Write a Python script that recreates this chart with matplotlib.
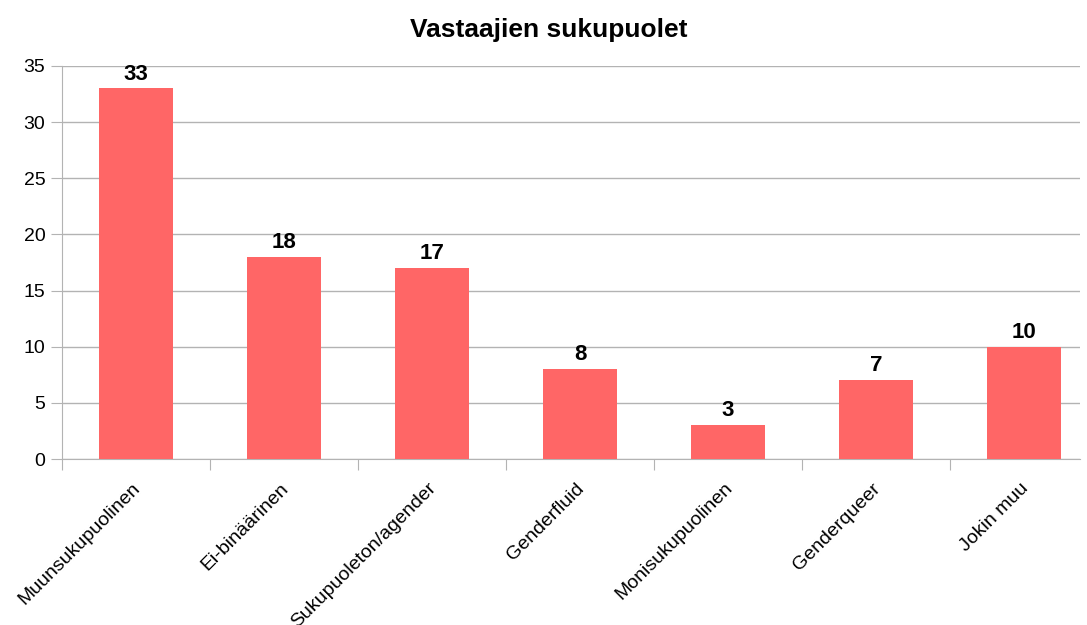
import numpy as np
import matplotlib.pyplot as plt

# data
categories = ["Muunsukupuolinen", "Ei-binäärinen", "Sukupuoleton/agender",
              "Genderfluid", "Monisukupuolinen", "Genderqueer", "Jokin muu"]
counts = [33, 18, 17, 8, 3, 7, 10]
title = "Vastaajien sukupuolet"

plt.rcParams['font.family'] = ['Liberation Sans', 'DejaVu Sans']

fig = plt.figure(figsize=(10.87, 6.25), dpi=100)
# plot area runs past the right edge in the original, cut at ~1080px
ax = fig.add_axes([62 / 1087, 1 - 459 / 625, 1018 / 1087, 393 / 625])

x = np.arange(len(categories))
bars = ax.bar(x, counts, width=0.5, color="#ff6666", zorder=3)

ax.set_yticks(range(0, 36, 5))
ax.yaxis.grid(True, color="#b3b3b3", linewidth=1, zorder=0)

for s in ["top", "right"]:
    ax.spines[s].set_visible(False)
for s in ["left", "bottom"]:
    ax.spines[s].set_color("#b3b3b3")

# ticks at category boundaries, labels at centres
ax.set_xticks(np.arange(-0.5, len(categories) - 0.5, 1.0))
ax.set_xticklabels([])
ax.set_xticks(x - 0.03, minor=True)
ax.set_xticklabels(categories, minor=True, rotation=45, ha="right",
                   rotation_mode="anchor", fontsize=14)
ax.tick_params(axis="x", which="major", length=8, color="#b3b3b3")
ax.tick_params(axis="x", which="minor", length=0, pad=15)
ax.tick_params(axis="y", length=8, color="#b3b3b3", labelsize=14, pad=4)

ax.set_xlim(-0.5, -0.5 + 1018 / 148.0)
ax.set_ylim(0, 35)

for b, v in zip(bars, counts):
    ax.text(b.get_x() + b.get_width() / 2, v + 0.35, str(v), ha="center",
            va="bottom", fontsize=16, fontweight="bold")

fig.text(0.505, 0.952, title, ha="center", va="center", fontsize=19,
         fontweight="bold")

fig.savefig("out.png", dpi=100)
